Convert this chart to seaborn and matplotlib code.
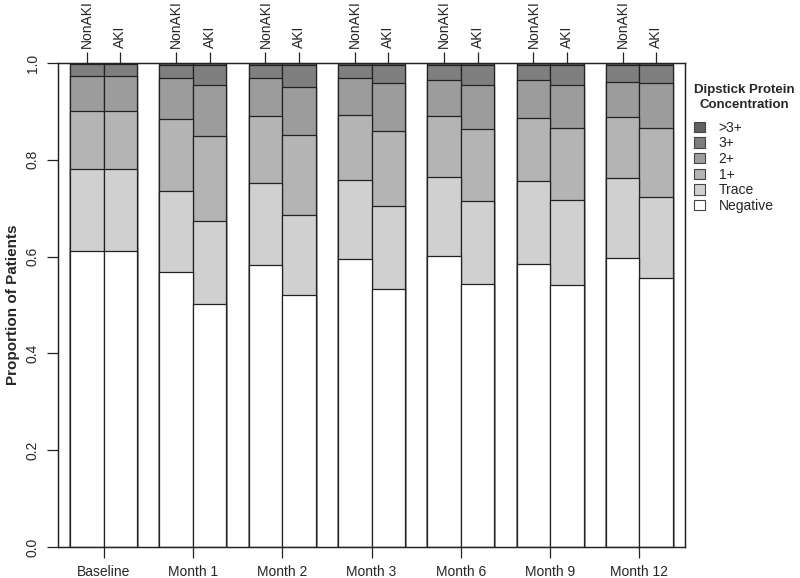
import seaborn as sns
import matplotlib.pyplot as plt
import pandas as pd
from matplotlib.patches import Patch

# =========================
# data
# =========================

timepoints = ["Baseline", "Month 1", "Month 2", "Month 3", "Month 6", "Month 9", "Month 12"]
groups = ["NonAKI", "AKI"]
categories = ["Negative", "Trace", "1+", "2+", "3+", ">3+"]

# proportion of patients in each category, one value per timepoint
nonaki = {
    "Negative": [0.611, 0.568, 0.583, 0.595, 0.602, 0.585, 0.597],
    "Trace":    [0.169, 0.167, 0.169, 0.164, 0.162, 0.171, 0.166],
    "1+":       [0.120, 0.150, 0.138, 0.133, 0.127, 0.131, 0.125],
    "2+":       [0.073, 0.083, 0.078, 0.076, 0.073, 0.077, 0.073],
    "3+":       [0.024, 0.028, 0.028, 0.028, 0.032, 0.032, 0.035],
    ">3+":      [0.003, 0.004, 0.004, 0.004, 0.004, 0.004, 0.004],
}
aki = {
    "Negative": [0.611, 0.502, 0.520, 0.534, 0.544, 0.542, 0.555],
    "Trace":    [0.169, 0.172, 0.165, 0.171, 0.171, 0.174, 0.169],
    "1+":       [0.120, 0.175, 0.166, 0.155, 0.149, 0.150, 0.142],
    "2+":       [0.073, 0.105, 0.100, 0.098, 0.090, 0.089, 0.092],
    "3+":       [0.024, 0.042, 0.045, 0.038, 0.042, 0.041, 0.038],
    ">3+":      [0.003, 0.004, 0.004, 0.004, 0.004, 0.004, 0.004],
}

colors = {
    "Negative": "#ffffff",
    "Trace": "#d0d0d0",
    "1+": "#b4b4b4",
    "2+": "#9c9c9c",
    "3+": "#7f7f7f",
    ">3+": "#606060",
}

# =========================
# long table with cumulative tops
# =========================

rows = []
for grp, table in zip(groups, [nonaki, aki]):
    for i, t in enumerate(timepoints):
        top = 0.0
        for cat in categories:
            top += table[cat][i]
            rows.append({"time": t, "group": grp, "category": cat, "top": top})
df = pd.DataFrame(rows)

# =========================
# plot
# =========================

sns.set_theme(style="ticks")
plt.rcParams["font.family"] = ["Liberation Sans", "DejaVu Sans"]

fig = plt.figure(figsize=(8, 5.78), dpi=100)
ax = fig.add_axes([0.0725, 0.0536, 0.7838, 0.8374])

# draw from the tallest stack down so each lower layer sits in front
for cat in categories[::-1]:
    sub = df[df["category"] == cat]
    sns.barplot(
        data=sub, x="time", y="top", hue="group",
        order=timepoints, hue_order=groups,
        palette=[colors[cat], colors[cat]],
        width=0.75, errorbar=None, legend=False,
        edgecolor="#222222", linewidth=0.9, ax=ax,
    )

ax.set_xlim(-0.51, 6.51)
ax.set_ylim(0, 1)
ax.set_xlabel("")
ax.set_ylabel("Proportion of Patients", fontsize=11, fontweight="bold", labelpad=4)
ax.set_xticks(range(len(timepoints)))
ax.set_xticklabels(timepoints, fontsize=10)
ax.set_yticks([0, 0.2, 0.4, 0.6, 0.8, 1.0])
ax.set_yticklabels(["0.0", "0.2", "0.4", "0.6", "0.8", "1.0"], fontsize=10,
                   rotation=90, va="center")
ax.tick_params(axis="both", length=8, width=0.9, color="#222222", pad=5)
for s in ax.spines.values():
    s.set_visible(True)
    s.set_linewidth(0.9)
    s.set_color("#222222")

# group labels along the top
ax2 = ax.twiny()
ax2.set_xlim(ax.get_xlim())
top_pos = []
top_lab = []
for i in range(len(timepoints)):
    top_pos += [i - 0.1875, i + 0.1875]
    top_lab += groups
ax2.set_xticks(top_pos)
ax2.set_xticklabels(top_lab, rotation=90, fontsize=10)
ax2.tick_params(axis="x", length=8, width=0.9, color="#222222", pad=3)
for s in ax2.spines.values():
    s.set_linewidth(0.9)
    s.set_color("#222222")

handles = [Patch(facecolor=colors[c], edgecolor="#444444", linewidth=0.8, label=c)
           for c in categories[::-1]]
leg = fig.legend(
    handles=handles, title="Dipstick Protein\nConcentration",
    loc="upper left", bbox_to_anchor=(0.868, 0.855), frameon=False,
    fontsize=10, title_fontproperties={"weight": "bold", "size": 9.5},
    handlelength=0.75, handleheight=0.75, handletextpad=1.0,
    labelspacing=0.12, borderaxespad=0, borderpad=0,
)
leg.get_title().set_multialignment("center")
leg.get_title().set_linespacing(1.35)
leg._legend_box.align = "left"
leg._legend_box.sep = 7

fig.savefig("out.png", dpi=100)
